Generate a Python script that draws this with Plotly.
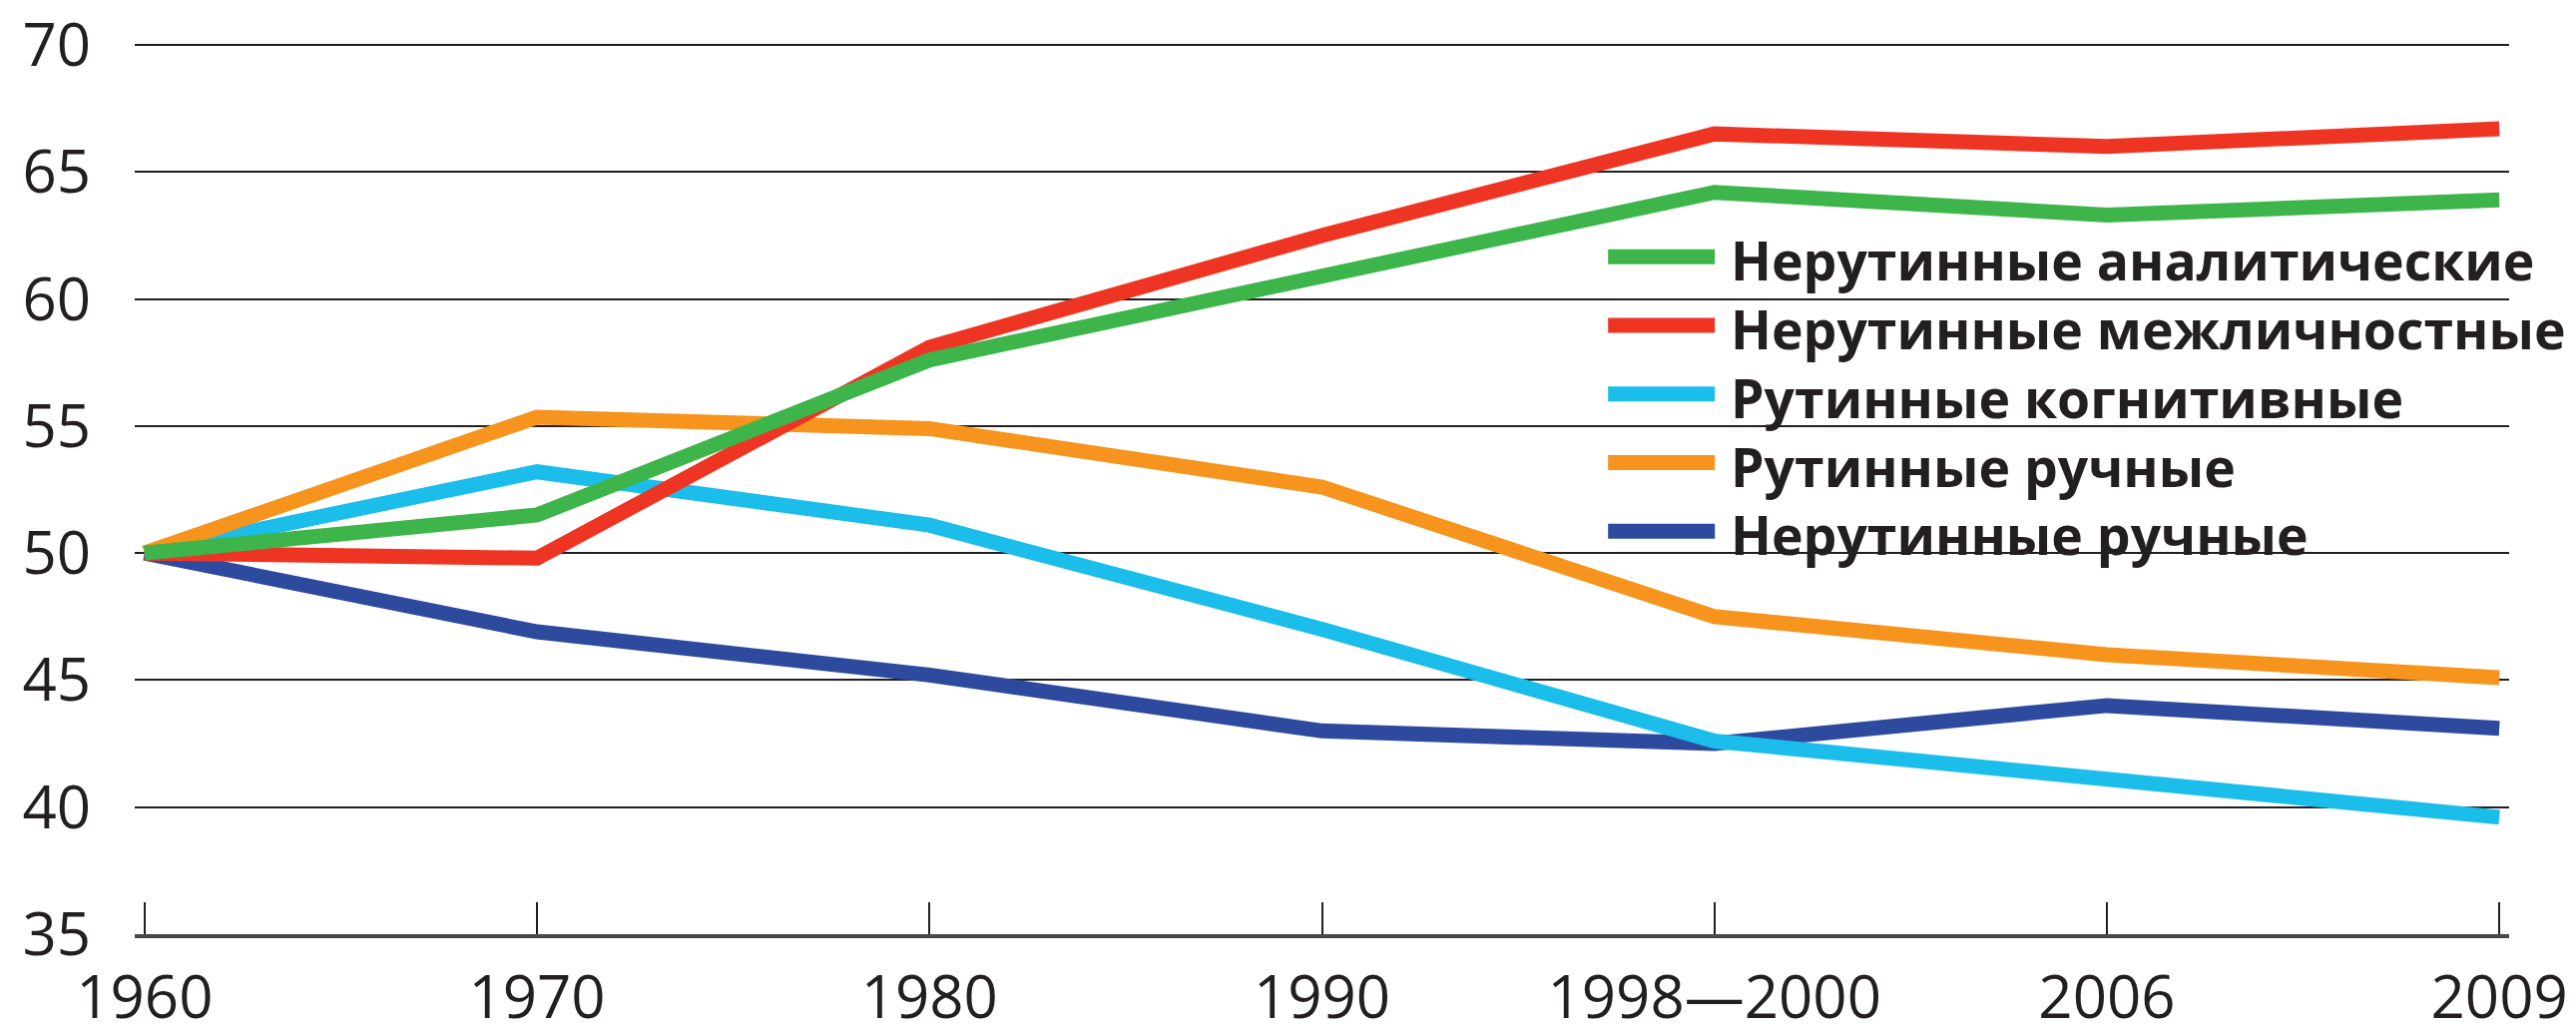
import plotly.graph_objects as go

categories = ["1960", "1970", "1980", "1990", "1998—2000", "2006", "2009"]

series_names = [
    "Нерутинные аналитические",
    "Нерутинные межличностные",
    "Рутинные когнитивные",
    "Рутинные ручные",
    "Нерутинные ручные",
]
nonroutine_analytic = [50, 51.5, 57.6, 60.9, 64.2, 63.3, 63.9]
nonroutine_interpersonal = [50, 49.8, 58.1, 62.5, 66.5, 66.0, 66.7]
routine_cognitive = [50, 53.2, 51.1, 47.0, 42.6, 41.1, 39.6]
routine_manual = [50, 55.35, 54.9, 52.6, 47.5, 46.0, 45.1]
nonroutine_manual = [50, 46.9, 45.2, 43.0, 42.5, 44.0, 43.1]

series_values = [nonroutine_analytic, nonroutine_interpersonal, routine_cognitive,
                 routine_manual, nonroutine_manual]
colors = ["#3db54a", "#ee3524", "#1bbdeb", "#f7941d", "#2e4a9e"]

y_ticks = [35, 40, 45, 50, 55, 60, 65, 70]

fig = go.Figure()

# draw order: blue, cyan, orange, red, green (green on top)
draw_order = [4, 2, 3, 1, 0]
for i in draw_order:
    fig.add_trace(go.Scatter(
        x=categories, y=series_values[i], mode="lines", name=series_names[i],
        line=dict(color=colors[i], width=15), showlegend=False,
    ))

# manual legend (thick line samples + bold text)
leg_x0, leg_x1, txt_x = 0.6205, 0.6655, 0.6715
row0, step = 0.760, 0.0770
for k, name in enumerate(series_names):
    yy = row0 - k * step
    fig.add_shape(type="line", xref="paper", yref="paper",
                  x0=leg_x0, x1=leg_x1, y0=yy, y1=yy,
                  line=dict(color=colors[k], width=15))
    fig.add_annotation(xref="paper", yref="paper", x=txt_x, y=yy - 0.004,
                       text=name, showarrow=False, xanchor="left", yanchor="middle",
                       font=dict(family="Open Sans", size=53.5, color="#231f20", weight="bold"))

# the page body adds an 8px offset, so the figure is 8px smaller than the window
fig.update_layout(
    width=2573, height=1023,
    margin=dict(l=127, r=67, t=35, b=95),
    paper_bgcolor="white", plot_bgcolor="white",
    font=dict(family="Open Sans", size=60, color="#231f20"),
    showlegend=False,
)
fig.update_xaxes(
    type="category", range=[-0.025, 6.025], automargin=False,
    showgrid=False, zeroline=False,
    showline=True, linecolor="#4a4a4a", linewidth=4,
    ticks="inside", ticklen=32, tickwidth=2, tickcolor="#231f20",
    ticklabelstandoff=8, ticklabeloverflow="allow",
    tickfont=dict(family="Open Sans", size=60, color="#231f20"),
)
fig.update_yaxes(
    range=[35, 70.08], tickvals=y_ticks, ticktext=[str(v) for v in y_ticks],
    automargin=False,
    showgrid=True, gridcolor="#231f20", gridwidth=2, zeroline=False,
    showline=False, ticks="",
    ticklabelstandoff=43, ticklabeloverflow="allow",
    tickfont=dict(family="Open Sans", size=60, color="#231f20"),
)

fig.write_html("out.html")
